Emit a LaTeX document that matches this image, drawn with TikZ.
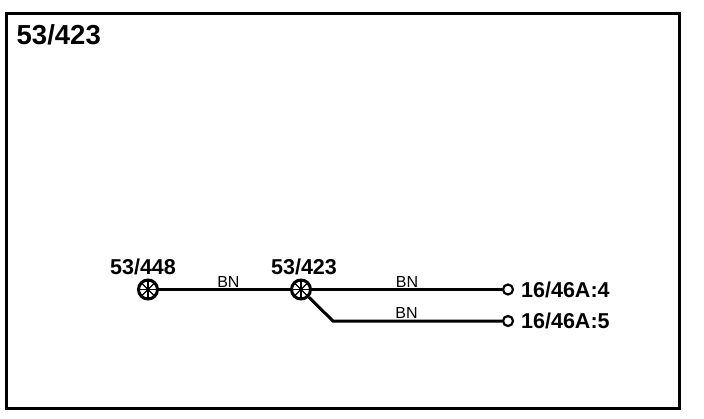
\documentclass[tikz,border=0pt]{standalone}
\usepackage{fontspec}
\setmainfont{Liberation Sans}
\usetikzlibrary{positioning}
\tikzset{
	frame/.style={rectangle, draw=black, line width=3pt, minimum width=673pt, minimum height=395pt, inner sep=0pt},
	wire/.style={draw=black, line width=3pt},
	junction/.style={circle, draw=black, line width=3pt, minimum size=19pt, inner sep=0pt, fill=white,
		path picture={
			\foreach \a in {0,45,...,315}
				\draw[line width=1.3pt] (path picture bounding box.center) -- ++(\a:11pt);
		}},
	terminal/.style={circle, draw=black, line width=2.2pt, minimum size=10pt, inner sep=0pt, fill=white},
	title/.style={font=\bfseries\fontsize{27.5}{30}\selectfont, inner sep=0pt},
	tag/.style={font=\bfseries\fontsize{21.5}{24}\selectfont, inner sep=0pt},
	colour/.style={font=\fontsize{16}{18}\selectfont, inner sep=1pt}
}
\begin{document}
\begin{tikzpicture}[x=1pt,y=1pt,node distance=153pt,auto]
	\useasboundingbox (0,0) rectangle (704,-418);
	\node (box) [frame] at (342.5,-210.75) {};
	\node (head) [title, anchor=base west] at (16.5,-44) {53/423};

	\node (J1) [junction] at (148,-289.5) {};
	\node (J2) [junction, right of=J1] {};
	\node (T1) [terminal] at (508,-289.5) {};
	\node (T2) [terminal] at (508,-321) {};
	\coordinate (bend) at (333,-321);

	\node (L1) [tag, anchor=base] at (143,-274) {53/448};
	\node (L2) [tag, anchor=base] at (304,-274) {53/423};
	\node (L3) [tag, anchor=base west] at (521,-297) {16/46A:4};
	\node (L4) [tag, anchor=base west] at (521,-328.5) {16/46A:5};

	\path (J1) edge[wire] node[colour, pos=.53] {BN} (J2);
	\path (J2) edge[wire] node[colour] {BN} (T1);
	\draw[wire] (J2) -- (bend) -- node[colour, pos=.435] {BN} (T2);
\end{tikzpicture}
\end{document}
